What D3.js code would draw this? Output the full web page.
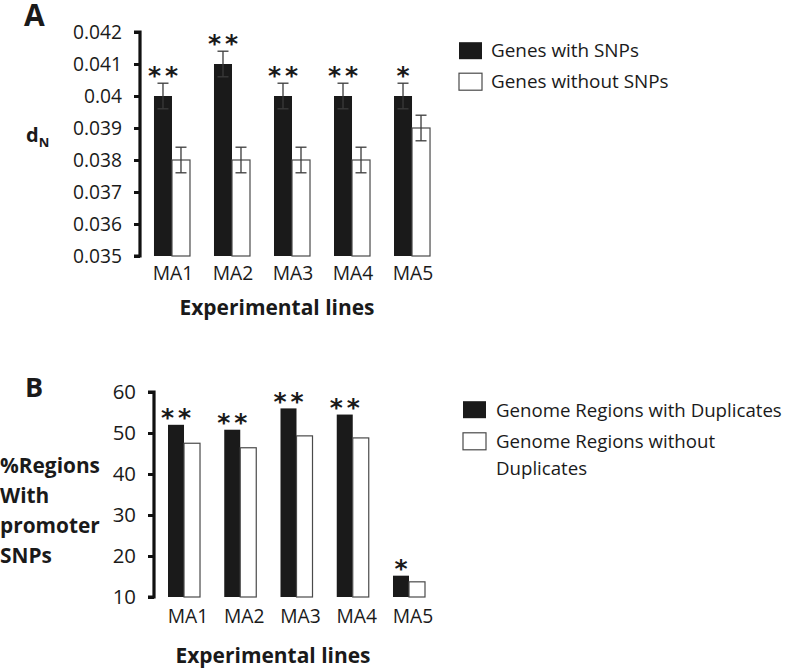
<!DOCTYPE html>
<html><head><meta charset="utf-8">
<script src="https://cdn.jsdelivr.net/npm/d3@7"></script>
<style>body{margin:0;background:#fff}svg{display:block;font-family:"Open Sans",sans-serif}</style>
</head><body><svg id="c" width="788" height="668"></svg>
<script>
const categories = ["MA1","MA2","MA3","MA4","MA5"];
// Panel A
const aSeries = ["Genes with SNPs","Genes without SNPs"];
const aWith = [0.040,0.041,0.040,0.040,0.040];
const aWithout = [0.038,0.038,0.038,0.038,0.039];
const aErrWith = [0.0004,0.0004,0.0004,0.0004,0.0004];
const aErrWithout = [0.0004,0.0004,0.0004,0.0004,0.0004];
const aStars = [2,2,2,2,1];
const aTicks = [0.035,0.036,0.037,0.038,0.039,0.040,0.041,0.042];
const aTickLabels = ["0.035","0.036","0.037","0.038","0.039","0.04","0.041","0.042"];
// Panel B
const bSeries = ["Genome Regions with Duplicates","Genome Regions without Duplicates"];
const bWith = [52,50.8,56,54.5,15.2];
const bWithout = [47.5,46.4,49.3,48.8,13.7];
const bStars = [2,2,2,2,1];
const bTicks = [10,20,30,40,50,60];

const svg = d3.select("#c");
const dark = "#1a1a1a", edge = "#4a4a4a", ink = "#1a1a1a";

// font size so that sample string has target width
function fitSize(sample, target, weight, family){
  const t = svg.append("text").style("font-size","100px").style("font-weight",weight||"normal")
    .style("font-family",family||"Open Sans").text(sample);
  const w = t.node().getComputedTextLength(); t.remove();
  return 100*target/w;
}
const fsTickA = fitSize("0.042",49);
const fsTickB = fitSize("60",23.3);
const fsCat = fitSize("MA1",40.5);
const fsLegA = fitSize("Genes with SNPs",148);
const fsLegB = fitSize("Genome Regions with Duplicates",286);
const fsXT = fitSize("Experimental lines",195,"bold");
const fsYT = fitSize("%Regions",100,"bold");

function panel(o){
  const g = svg.append("g");
  const x = d3.scaleBand().domain(categories).range([o.x0,o.x1]).paddingInner(o.pi).paddingOuter(o.po);
  const xs = d3.scaleBand().domain([0,1]).range([0,x.bandwidth()]);
  const y = d3.scaleLinear().domain(o.domain).range([o.yb,o.yt]);
  // bars
  categories.forEach((c,i)=>{
    [o.v1[i],o.v2[i]].forEach((v,j)=>{
      g.append("rect").attr("x",x(c)+xs(j)).attr("y",y(v)).attr("width",xs.bandwidth()).attr("height",y(o.domain[0])-y(v))
       .attr("fill",j?"#fff":dark).attr("stroke",j?edge:"none").attr("stroke-width",1.2);
    });
    if(o.e1){
      [[o.v1[i],o.e1[i]],[o.v2[i],o.e2[i]]].forEach(([v,e],j)=>{
        const cx = x(c)+xs(j)+xs.bandwidth()/2;
        const col = "#3a3a3a";
        g.append("line").attr("x1",cx).attr("x2",cx).attr("y1",y(v+e)).attr("y2",y(v-e)).attr("stroke",col).attr("stroke-width",1.3);
        [v+e,v-e].forEach(t=>g.append("line").attr("x1",cx-5.5).attr("x2",cx+5.5).attr("y1",y(t)).attr("y2",y(t)).attr("stroke",col).attr("stroke-width",1.3));
      });
    }
    const top = o.e1 ? y(o.v1[i]+o.e1[i]) : y(o.v1[i]);
    const cx = x(c)+xs(0)+xs.bandwidth()/2;
    const n = o.stars[i];
    for(let k=0;k<n;k++){
      const dx = n===1 ? 0 : (k===0 ? -8.5 : 8.5);
      g.append("text").attr("x",cx+dx).attr("y",top-o.sg+0.57*o.sfs)
        .attr("text-anchor","middle").style("font-size",o.sfs+"px").style("font-family","DejaVu Sans").style("font-weight","bold")
        .attr("fill",ink).text("*");
    }
    g.append("text").attr("x",x(c)+x.bandwidth()/2+o.lx).attr("y",o.ly).attr("text-anchor","middle")
      .style("font-size",fsCat+"px").attr("fill",ink).text(c);
  });
  // axis
  const ax = d3.axisLeft(y).tickValues(o.ticks).tickSize(6).tickPadding(o.tp).tickFormat((d,i)=>o.tickLabels[i]);
  const axg = g.append("g").attr("transform",`translate(${o.x0},0)`).call(ax);
  axg.select(".domain").attr("stroke","#111").attr("stroke-width",3.2).attr("d",`M-6,${o.yt}H0V${o.yb}H-6`);
  axg.selectAll(".tick line").attr("stroke","#111").attr("stroke-width",3);
  axg.selectAll(".tick text").attr("fill",ink).style("font-size",o.tfs+"px").style("font-family","Open Sans");
  // x title
  g.append("text").attr("x",o.xtx).attr("y",o.xty).attr("text-anchor","middle")
   .style("font-size",fsXT+"px").style("font-weight","bold").attr("fill",ink).text("Experimental lines");
  // legend
  o.series.forEach((s,j)=>{
    g.append("rect").attr("x",o.lgx).attr("y",o.lgy[j]-o.boxOff).attr("width",23).attr("height",17)
     .attr("fill",j?"#fff":dark).attr("stroke",j?edge:"none").attr("stroke-width",1.2);
    o.lgLines[j].forEach((t,k)=>g.append("text").attr("x",o.lgx+o.lgdx).attr("y",o.lgy[j]+k*26.7)
      .style("font-size",o.lfs+"px").attr("fill",ink).text(t));
  });
  return g;
}

panel({x0:140,x1:444,pi:0.4,po:0.233,domain:[0.035,0.042],yb:256,yt:32,ticks:aTicks,tickLabels:aTickLabels,tp:12,tfs:fsTickA,
  v1:aWith,v2:aWithout,e1:aErrWith,e2:aErrWithout,stars:aStars,sg:13,sfs:25,lx:1,ly:280,
  xtx:277,xty:315,series:aSeries,lgx:459,lgdx:32,lgy:[56.7,87.7],boxOff:14.5,lfs:fsLegA,lgLines:[["Genes with SNPs"],["Genes without SNPs"]]});
panel({x0:154,x1:439,pi:0.431,po:0.249,domain:[10,60],yb:597,yt:392,ticks:bTicks,tickLabels:bTicks.map(String),tp:12,tfs:fsTickB,
  v1:bWith,v2:bWithout,e1:null,e2:null,stars:bStars,sg:13,sfs:25,lx:4,ly:622.7,
  xtx:273,xty:663,series:bSeries,lgx:463,lgdx:33,lgy:[416.7,448.3],boxOff:15.5,lfs:fsLegB,lgLines:[["Genome Regions with Duplicates"],["Genome Regions without","Duplicates"]]});

// Panel letters and y titles
svg.append("text").attr("x",24).attr("y",26).style("font-size","30px").style("font-weight","bold").attr("fill",ink).text("A");
svg.append("text").attr("x",25).attr("y",397).style("font-size","27px").style("font-weight","bold").attr("fill",ink).text("B");
const dn = svg.append("text").attr("x",26).attr("y",142).style("font-size","20px").style("font-weight","bold").attr("fill",ink);
dn.append("tspan").text("d");
dn.append("tspan").attr("dy",5).style("font-size","13px").text("N");
["%Regions","With","promoter","SNPs"].forEach((t,k)=>svg.append("text").attr("x",0).attr("y",473.3+k*29.8)
  .style("font-size",fsYT+"px").style("font-weight","bold").attr("fill",ink).text(t));
</script></body></html>
